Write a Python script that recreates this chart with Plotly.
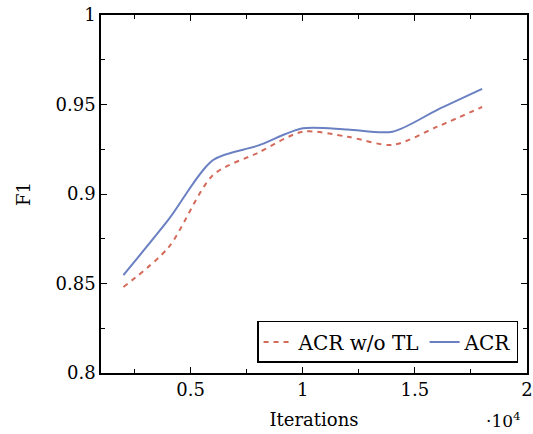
import plotly.graph_objects as go

iterations = [0.2, 0.4, 0.6, 0.8, 1.0, 1.2, 1.4, 1.6, 1.8]
f1_acr_wo_tl = [0.848, 0.870, 0.9106, 0.923, 0.9348, 0.932, 0.9274, 0.9376, 0.9486]
f1_acr = [0.8547, 0.8855, 0.919, 0.927, 0.9367, 0.936, 0.9348, 0.947, 0.9587]
x_ticks = [0.5, 1, 1.5, 2]
x_tick_labels = ["0.5", "1", "1.5", "2"]
y_ticks = [0.8, 0.85, 0.9, 0.95, 1]
y_tick_labels = ["0.8", "0.85", "0.9", "0.95", "1"]

FONT = "DejaVu Serif"
FS = 18
fig = go.Figure()
fig.add_trace(go.Scatter(x=iterations, y=f1_acr_wo_tl, mode="lines", name="ACR w/o TL",
                         line=dict(color="#d46a5a", width=2, dash="5px,5px", shape="spline", smoothing=0.8)))
fig.add_trace(go.Scatter(x=iterations, y=f1_acr, mode="lines", name="ACR",
                         line=dict(color="#6a80c2", width=2, shape="spline", smoothing=0.8)))

axis_common = dict(showline=True, linecolor="black", linewidth=1.5, mirror="allticks",
                   ticks="inside", ticklen=6, tickcolor="black", showgrid=False, zeroline=False,
                   automargin=False, tickfont=dict(family=FONT, size=FS, color="black"))
fig.update_xaxes(range=[0.1, 2.0], tickvals=x_ticks, ticktext=x_tick_labels,
                 minor=dict(ticks="inside", ticklen=4, tickcolor="black", dtick=0.25, tick0=0, showgrid=False),
                 title=dict(text="Iterations", font=dict(family=FONT, size=FS, color="black"), standoff=14),
                 **axis_common)
fig.update_yaxes(range=[0.8, 1], tickvals=y_ticks, ticktext=y_tick_labels,
                 minor=dict(ticks="inside", ticklen=4, tickcolor="black", dtick=0.025, tick0=0.8, showgrid=False),
                 title=dict(text="F1", font=dict(family=FONT, size=FS, color="black"), standoff=20),
                 **axis_common)
fig.add_annotation(text="·10<sup>4</sup>", xref="paper", yref="paper", x=0.99, y=-0.13,
                   xanchor="right", yanchor="middle", showarrow=False,
                   font=dict(family=FONT, size=FS - 1, color="black"))
fig.update_layout(width=533, height=434, margin=dict(l=101, r=6, t=15, b=61),
                  plot_bgcolor="white", paper_bgcolor="white",
                  legend=dict(orientation="h", x=0.979, y=0.028, xanchor="right", yanchor="bottom",
                              bordercolor="black", borderwidth=1.5, bgcolor="white",
                              font=dict(family=FONT, size=20, color="black")))
fig.write_html("out.html", config={"displayModeBar": False})

with open("out.html", "r", encoding="utf-8") as fh:
    html = fh.read()
html = html.replace("<body>", '<body style="margin:0;padding:0;overflow:hidden">', 1)
with open("out.html", "w", encoding="utf-8") as fh:
    fh.write(html)
